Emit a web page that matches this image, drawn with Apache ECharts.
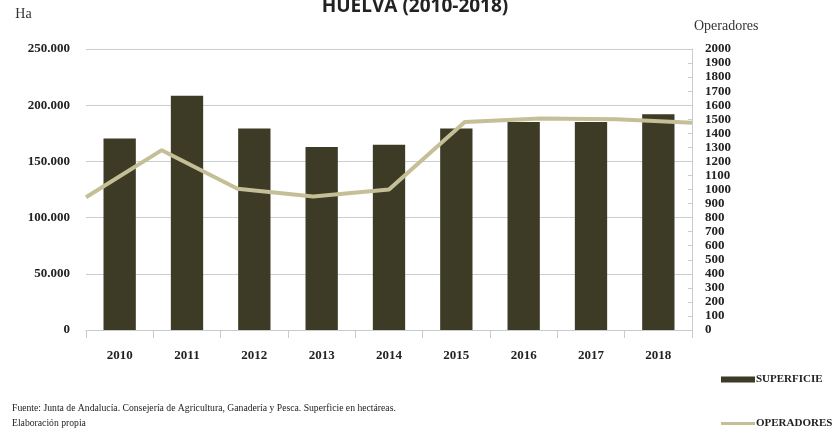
<!DOCTYPE html>
<html>
<head>
<meta charset="utf-8">
<script src="https://cdn.jsdelivr.net/npm/echarts@6/dist/echarts.min.js"></script>
<style>html,body{margin:0;padding:0;background:#fff}#c{width:833px;height:441px}</style>
</head>
<body>
<div id="c"></div>
<script>
var categories = ['2010','2011','2012','2013','2014','2015','2016','2017','2018'];
var superficie = [170300, 208300, 179200, 162800, 164900, 179200, 185100, 185000, 192000];
var operadores = [945, 1280, 1005, 950, 1000, 1480, 1505, 1500, 1475];
var titleText = 'HUELVA (2010-2018)';
var leftAxisName = 'Ha';
var rightAxisName = 'Operadores';
var sourceLine1 = 'Fuente: Junta de Andalucía. Consejería de Agricultura, Ganadería y Pesca. Superficie en hectáreas.';
var sourceLine2 = 'Elaboración propia';

var serif = '"Liberation Serif", "DejaVu Serif", serif';
var chart = echarts.init(document.getElementById('c'));
chart.setOption({
  animation: false,
  backgroundColor: '#ffffff',
  title: {
    text: titleText, left: 410, textAlign: 'center', top: -8,
    textStyle: {fontFamily: '"Open Sans", sans-serif', fontWeight: 'bold', fontSize: 19, color: '#222'}
  },
  grid: {left: 86, right: 141, top: 49, bottom: 111, containLabel: false},
  legend: [{
    orient: 'vertical', left: 716, top: 369,
    itemWidth: 34, itemHeight: 6,
    data: [{name: 'SUPERFICIE', icon: 'rect'}],
    textStyle: {fontFamily: serif, fontWeight: 'bold', fontSize: 11, color: '#222', padding: [0,0,0,-4]}
  },{
    orient: 'vertical', left: 716, top: 413,
    itemWidth: 34, itemHeight: 3,
    data: [{name: 'OPERADORES', icon: 'rect'}],
    itemStyle: {color: '#c4bf97', borderWidth: 0},
    textStyle: {fontFamily: serif, fontWeight: 'bold', fontSize: 11, color: '#222', padding: [0,0,0,-4]}
  }],
  xAxis: [{
    type: 'category', data: categories, boundaryGap: true,
    axisLine: {lineStyle: {color: '#c6ccd2', width: 1}},
    axisTick: {show: true, length: 8, lineStyle: {color: '#c6ccd2'}},
    axisLabel: {fontFamily: serif, fontWeight: 'bold', fontSize: 13, color: '#222', margin: 19}
  },{
    type: 'category', data: categories, boundaryGap: false, show: false
  }],
  yAxis: [{
    type: 'value', min: 0, max: 250000, interval: 50000,
    name: leftAxisName, nameLocation: 'end', nameGap: 28,
    nameTextStyle: {fontFamily: serif, fontSize: 14, color: '#333', align: 'center', padding: [0, 0, 0, -125]},
    axisLine: {show: false}, axisTick: {show: false},
    splitLine: {lineStyle: {color: '#c9ced3', width: 1}},
    axisLabel: {fontFamily: serif, fontWeight: 'bold', fontSize: 13, color: '#222', margin: 16,
      formatter: function(v){ return String(v).replace(/\B(?=(\d{3})+(?!\d))/g, '.'); }}
  },{
    type: 'value', min: 0, max: 2000, interval: 100, position: 'right',
    name: rightAxisName, nameLocation: 'end', nameGap: 16,
    nameTextStyle: {fontFamily: serif, fontSize: 14, color: '#333', align: 'left', padding: [0, 0, 0, 2]},
    axisLine: {show: true, lineStyle: {color: '#c6ccd2'}},
    axisTick: {show: true, inside: true, length: 4, lineStyle: {color: '#c6ccd2'}},
    splitLine: {show: false},
    axisLabel: {fontFamily: serif, fontWeight: 'bold', fontSize: 13, color: '#222', margin: 13, lineHeight: 13,
      formatter: function(v){ return String(v); }}
  }],
  series: [{
    name: 'SUPERFICIE', type: 'bar', data: superficie, xAxisIndex: 0, yAxisIndex: 0,
    barWidth: '48%', itemStyle: {color: '#3d3b26'}
  },{
    name: 'OPERADORES', type: 'line', data: operadores, xAxisIndex: 1, yAxisIndex: 1,
    symbol: 'none', lineStyle: {color: '#c4bf97', width: 4}, itemStyle: {color: '#c4bf97'}
  }],
  graphic: [{
    type: 'text', left: 12, top: 403, scaleX: 0.88, originX: 0,
    style: {text: sourceLine1, font: '11px ' + serif, fill: '#222'}
  },{
    type: 'text', left: 12, top: 418, scaleX: 0.88, originX: 0,
    style: {text: sourceLine2, font: '11px ' + serif, fill: '#222'}
  }]
});
</script>
</body>
</html>
